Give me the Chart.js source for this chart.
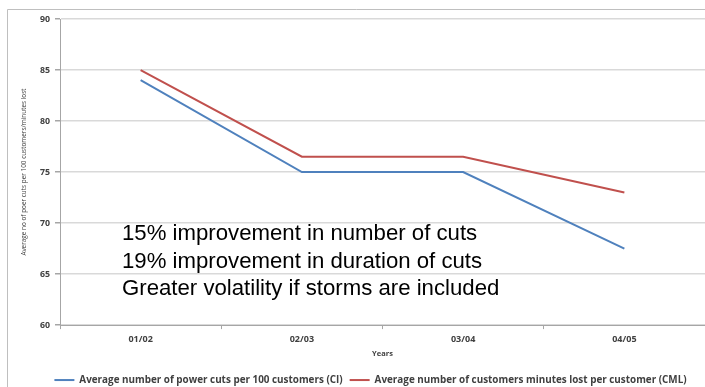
<!DOCTYPE html>
<html>
<head>
<meta charset="utf-8">
<script src="https://cdn.jsdelivr.net/npm/chart.js@4.4.0/dist/chart.umd.min.js"></script>
<style>
  html, body { margin: 0; padding: 0; background: #fff; }
  #wrap { width: 705px; height: 387px; position: relative; }
</style>
</head>
<body>
<div id="wrap"><canvas id="grafica"></canvas></div>
<script>
// datos por año
const years = ['01/02', '02/03', '03/04', '04/05'];
const ciValues = [84, 75, 75, 67.5];
const cmlValues = [85, 76.5, 76.5, 73];
const yTicks = [60, 65, 70, 75, 80, 85, 90];
const notes = [
    '15% improvement in number of cuts',
    '19% improvement in duration of cuts',
    'Greater volatility if storms are included'
];

const fuente = 'Open Sans, sans-serif';

// marco gris alrededor del gráfico
const marco = {
    id: 'marco',
    beforeDraw(chart) {
        const c = chart.ctx;
        c.save();
        c.strokeStyle = '#bfbfbf';
        c.lineWidth = 1;
        c.beginPath();
        c.moveTo(7.5, 400);
        c.lineTo(7.5, 9.5);
        c.lineTo(710, 9.5);
        c.stroke();
        c.restore();
    }
};

// texto encima del área de datos
const notas = {
    id: 'notas',
    afterDatasetsDraw(chart) {
        const c = chart.ctx;
        const area = chart.chartArea;
        c.save();
        c.fillStyle = '#000';
        c.font = '22.2px "Liberation Sans", Arial, sans-serif';
        c.textBaseline = 'alphabetic';
        notes.forEach((t, i) => {
            c.fillText(t, area.left + 62, area.top + 221 + i * 27.5);
        });
        c.restore();
    }
};

const ctx = document.getElementById('grafica').getContext('2d');
const grafica = new Chart(ctx, {
    type: 'line',
    data: {
        labels: years,
        datasets: [{
            label: 'Average number of power cuts per 100 customers (CI)',
            data: ciValues,
            borderColor: '#4f81bd',
            backgroundColor: '#4f81bd',
            borderWidth: 2,
            pointRadius: 0,
            tension: 0
        }, {
            label: 'Average number of customers minutes lost per customer (CML)',
            data: cmlValues,
            borderColor: '#c0504d',
            backgroundColor: '#c0504d',
            borderWidth: 2,
            pointRadius: 0,
            tension: 0
        }]
    },
    options: {
        responsive: true,
        maintainAspectRatio: false,
        animation: false,
        // el margen izquierdo desplaza la leyenda hacia la derecha
        layout: { padding: { top: 19, right: 0, left: 36, bottom: -8 } },
        plugins: {
            legend: {
                position: 'bottom',
                labels: {
                    usePointStyle: true,
                    pointStyle: 'line',
                    pointStyleWidth: 20,
                    boxHeight: 2,
                    padding: 7,
                    color: '#404040',
                    font: { family: fuente, size: 9.9, weight: 'bold' }
                }
            },
            tooltip: { enabled: false }
        },
        scales: {
            x: {
                offset: true,
                afterFit(scale) { scale.height = 43; },
                grid: {
                    offset: true,
                    drawOnChartArea: false,
                    tickLength: 4,
                    color: '#a6a6a6'
                },
                border: { color: '#a6a6a6', width: 1 },
                ticks: {
                    color: '#404040',
                    padding: 5,
                    font: { family: fuente, size: 9, weight: 'bold' }
                },
                title: {
                    display: true,
                    text: 'Years',
                    color: '#404040',
                    padding: { top: 5, bottom: 10 },
                    font: { family: fuente, size: 7.5, weight: 'bold' }
                }
            },
            y: {
                min: 60,
                max: 90,
                afterBuildTicks(scale) {
                    scale.ticks = yTicks.map(v => ({ value: v }));
                },
                afterFit(scale) { scale.width = 24; },
                grid: {
                    color: '#d9d9d9',
                    lineWidth: 1.5,
                    tickLength: 5,
                    tickColor: '#a6a6a6'
                },
                border: { color: '#a6a6a6', width: 1 },
                ticks: {
                    color: '#404040',
                    padding: 5,
                    font: { family: fuente, size: 8.8, weight: 'bold' }
                },
                title: {
                    display: true,
                    text: 'Average no of poer cuts per 100 customers/minutes lost',
                    color: '#404040',
                    padding: { top: -16, bottom: 0 },
                    font: { family: fuente, size: 6.4, weight: 'normal' }
                }
            }
        }
    },
    plugins: [marco, notas]
});
</script>
</body>
</html>
